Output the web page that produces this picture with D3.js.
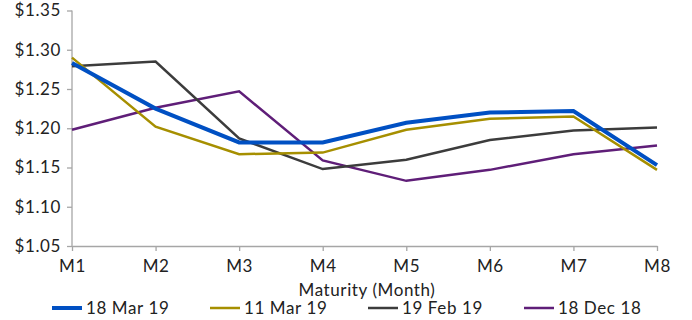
<!DOCTYPE html>
<html><head><meta charset="utf-8">
<script src="https://cdn.jsdelivr.net/npm/d3@7"></script>
<style>body{margin:0;background:#fff}svg{display:block}text{font-family:Lato,"DejaVu Sans",sans-serif;fill:#222;letter-spacing:0.6px}</style>
</head><body><svg id="c" width="692" height="320"></svg>
<script>
const categories = ["M1","M2","M3","M4","M5","M6","M7","M8"];
const seriesNames = ["18 Mar 19","11 Mar 19","19 Feb 19","18 Dec 18"];
const mar18 = [1.283,1.225,1.182,1.182,1.207,1.220,1.222,1.153];
const mar11 = [1.290,1.202,1.167,1.169,1.198,1.212,1.215,1.147];
const feb19 = [1.279,1.285,1.187,1.148,1.160,1.185,1.197,1.201];
const dec18 = [1.198,1.226,1.247,1.159,1.133,1.147,1.167,1.178];
const yTicks = [1.05,1.10,1.15,1.20,1.25,1.30,1.35];
const colors = ["#0050C3","#A68F00","#3C3C3C","#5F1E78"];
const widths = [4,2.5,2.5,2.5];
const series = [mar18,mar11,feb19,dec18];
const fs = "17px";

const svg = d3.select("#c");
const x = d3.scalePoint().domain(categories).range([72,657]);
const y = d3.scaleLinear().domain([1.05,1.35]).range([246,10.5]);

const yAxis = svg.append("g").attr("transform","translate(72,0)")
  .call(d3.axisLeft(y).tickValues(yTicks).tickSize(5).tickSizeOuter(0).tickPadding(6).tickFormat(d=>"$"+d3.format(".2f")(d)));
const xAxis = svg.append("g").attr("transform","translate(0,246)")
  .call(d3.axisBottom(x).tickSize(5).tickSizeOuter(0).tickPadding(6));
[yAxis,xAxis].forEach(a=>{
  a.selectAll("path,line").attr("stroke","#a6a6a6").attr("stroke-width",1.3);
  a.selectAll("text").style("font-size",fs).attr("fill","#222").style("font-family","Lato,'DejaVu Sans',sans-serif");
});
yAxis.select(".domain").attr("d","M0,"+y(1.35)+"V246");
xAxis.selectAll("text").attr("dy","0.9em");

svg.append("text").attr("x",367).attr("y",296).attr("text-anchor","middle")
  .style("font-size",fs).text("Maturity (Month)");

const line = d3.line().x((d,i)=>x(categories[i])).y(d=>y(d));
[3,2,1,0].forEach(k=>{
  svg.append("path").datum(series[k]).attr("d",line).attr("fill","none")
    .attr("stroke",colors[k]).attr("stroke-width",widths[k]).attr("stroke-linejoin","miter");
});

const legX = [52,210,368,524];
seriesNames.forEach((n,k)=>{
  const g = svg.append("g").attr("transform",`translate(${legX[k]},308)`);
  g.append("line").attr("x1",0).attr("x2",30).attr("y1",0).attr("y2",0)
    .attr("stroke",colors[k]).attr("stroke-width",widths[k]);
  g.append("text").attr("x",34).attr("y",0).attr("dy","0.35em").style("font-size",fs).text(n);
});
</script></body></html>
